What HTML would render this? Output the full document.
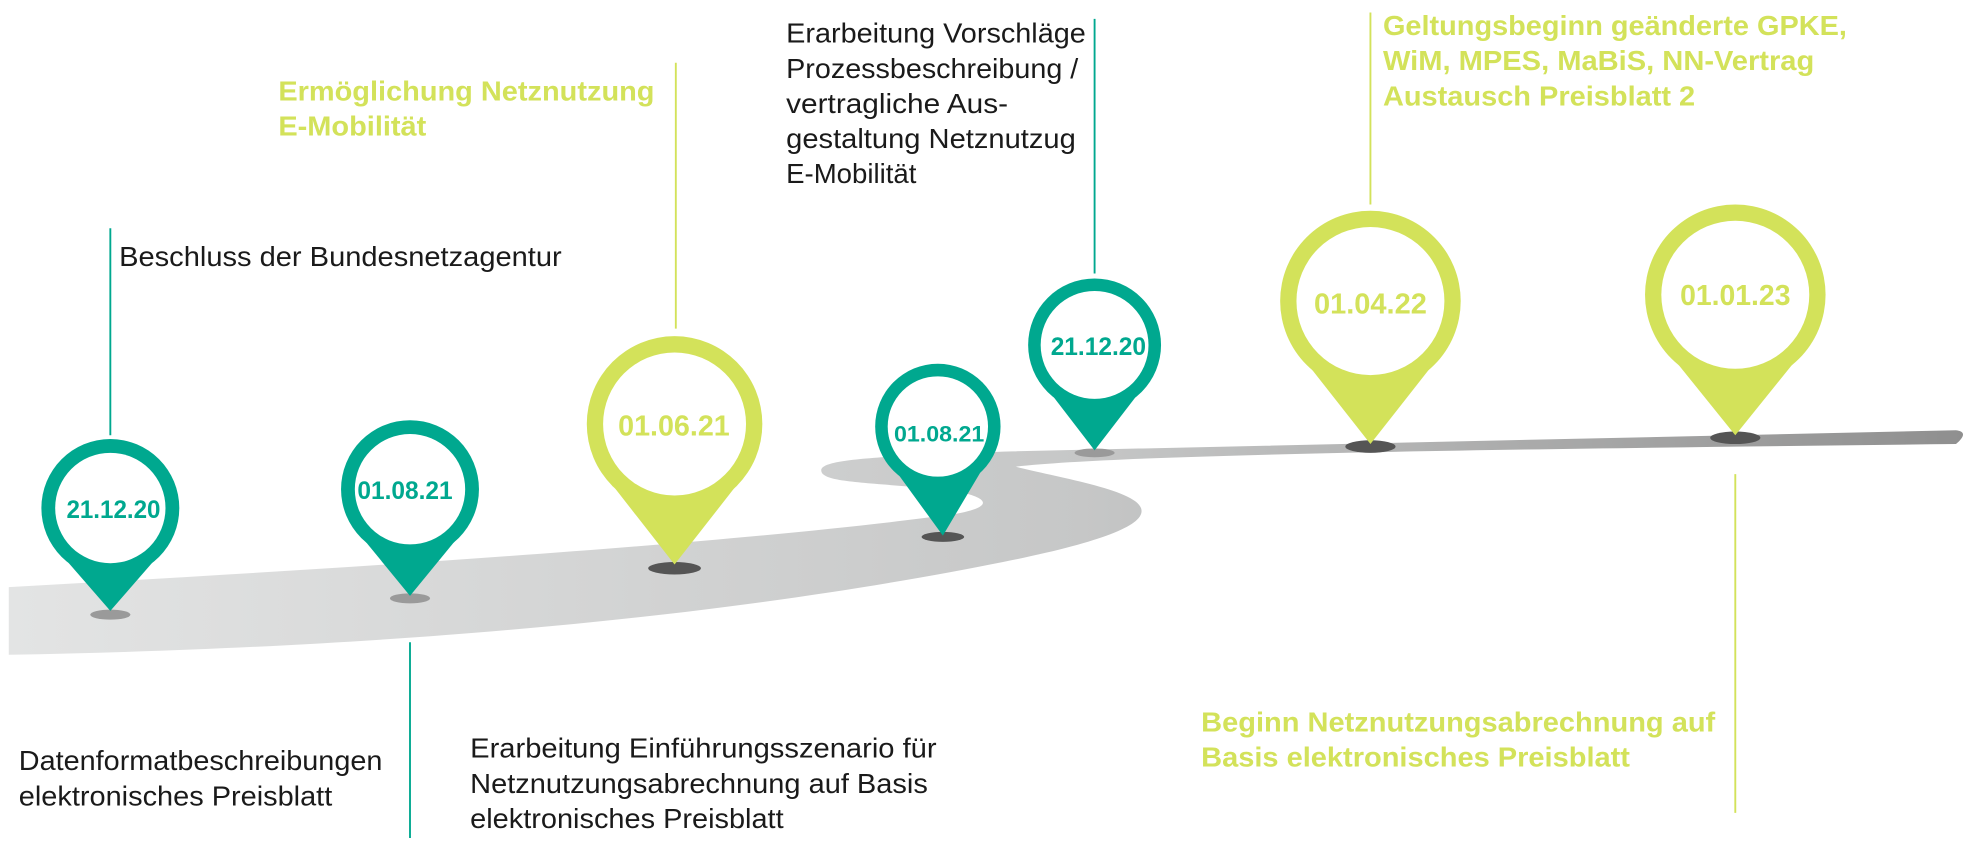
<!DOCTYPE html>
<html><head><meta charset="utf-8"><style>
html,body{margin:0;padding:0;background:#fff;width:1966px;height:853px;overflow:hidden}
svg{display:block}
text{font-family:"Liberation Sans",sans-serif}
.b{fill:#1a1a1a;font-size:22px}
.g{fill:#d3e25a;font-size:22px;font-weight:bold}
.pt{fill:#00a88f;font-weight:bold;font-size:20px}
.pl{fill:#d3e25a;font-weight:bold;font-size:23px}
</style></head><body>
<svg width="1966" height="853" viewBox="0 0 1568 680" preserveAspectRatio="none">
<defs>
<linearGradient id="rg" x1="0" x2="1" y1="0" y2="0">
<stop offset="0" stop-color="#e3e4e4"/><stop offset="0.55" stop-color="#c6c7c7"/><stop offset="1" stop-color="#8f8f8f"/>
</linearGradient>
</defs>
<path d="M7,468 C300,452 600,432 760,410 C790,405 792,398 765,392 C700,384 655,386 655,375 C655,366 700,364 800,360 L1560,343 C1568,344 1567,348 1560,354 C1200,358 900,362 810,372 C840,380 905,390 910,405 C915,418 880,432 800,448 C650,478 400,515 7,522 Z" fill="url(#rg)"/>

<g stroke-width="1.5">
<line x1="88" y1="182" x2="88" y2="347" stroke="#00a88f"/>
<line x1="327" y1="512" x2="327" y2="668" stroke="#00a88f"/>
<line x1="539" y1="50" x2="539" y2="262" stroke="#d3e25a"/>
<line x1="873" y1="15" x2="873" y2="218" stroke="#00a88f"/>
<line x1="1093" y1="10" x2="1093" y2="163" stroke="#d3e25a"/>
<line x1="1384" y1="378" x2="1384" y2="648" stroke="#d3e25a"/>
</g>

<ellipse cx="88" cy="490" rx="16" ry="4" fill="#9a9a9a"/>
<ellipse cx="327" cy="477" rx="16" ry="4" fill="#9a9a9a"/>
<ellipse cx="538" cy="453" rx="21" ry="5" fill="#555"/>
<ellipse cx="752" cy="428" rx="17" ry="4" fill="#555"/>
<ellipse cx="873" cy="361" rx="16" ry="3.5" fill="#9a9a9a"/>
<ellipse cx="1093" cy="356" rx="20" ry="5" fill="#555"/>
<ellipse cx="1384" cy="349" rx="20" ry="5" fill="#555"/>

<g fill="#00a88f">
<circle cx="88" cy="405" r="55"/><path d="M48,441 L88,487 L128,441 Z"/>
<circle cx="327" cy="390" r="55"/><path d="M286,425 L327,475 L368,425 Z"/>
<circle cx="748" cy="340" r="50"/><path d="M709,368 L752,427 L787,368 Z"/>
<circle cx="873" cy="275" r="53"/><path d="M833,307 L873,359 L913,307 Z"/>
</g>
<g fill="#d3e25a">
<circle cx="538" cy="338" r="70"/><path d="M484,381 L538,450 L592,381 Z"/>
<circle cx="1093" cy="240" r="72"/><path d="M1038,284 L1093,354 L1148,284 Z"/>
<circle cx="1384" cy="235" r="72"/><path d="M1330,280 L1384,347 L1438,280 Z"/>
</g>
<g fill="#fff">
<circle cx="88" cy="405" r="44"/>
<circle cx="327" cy="390" r="44"/>
<circle cx="748" cy="340" r="40"/>
<circle cx="873" cy="275" r="43"/>
<circle cx="538" cy="338" r="57"/>
<circle cx="1093" cy="240" r="59"/>
<circle cx="1384" cy="235" r="59"/>
</g>
<g>
<text class="pt" x="53" y="413" textLength="75" lengthAdjust="spacingAndGlyphs">21.12.20</text>
<text class="pt" x="285" y="398" textLength="76" lengthAdjust="spacingAndGlyphs">01.08.21</text>
<text class="pl" x="493" y="347" textLength="89" lengthAdjust="spacingAndGlyphs">01.06.21</text>
<text class="pt" x="713" y="352" textLength="72" lengthAdjust="spacingAndGlyphs" style="font-size:18px">01.08.21</text>
<text class="pt" x="838" y="283" textLength="76" lengthAdjust="spacingAndGlyphs">21.12.20</text>
<text class="pl" x="1048" y="250" textLength="90" lengthAdjust="spacingAndGlyphs">01.04.22</text>
<text class="pl" x="1340" y="243" textLength="88" lengthAdjust="spacingAndGlyphs">01.01.23</text>

<text class="b" x="95" y="212" textLength="353" lengthAdjust="spacingAndGlyphs">Beschluss der Bundesnetzagentur</text>
<text class="b" x="15" y="614" textLength="290" lengthAdjust="spacingAndGlyphs">Datenformatbeschreibungen</text>
<text class="b" x="15" y="642" textLength="250" lengthAdjust="spacingAndGlyphs">elektronisches Preisblatt</text>
<text class="b" x="375" y="604" textLength="372" lengthAdjust="spacingAndGlyphs">Erarbeitung Einführungsszenario für</text>
<text class="b" x="375" y="632" textLength="365" lengthAdjust="spacingAndGlyphs">Netznutzungsabrechnung auf Basis</text>
<text class="b" x="375" y="660" textLength="250" lengthAdjust="spacingAndGlyphs">elektronisches Preisblatt</text>
<text class="b" x="627" y="34" textLength="239" lengthAdjust="spacingAndGlyphs">Erarbeitung Vorschläge</text>
<text class="b" x="627" y="62" textLength="233" lengthAdjust="spacingAndGlyphs">Prozessbeschreibung /</text>
<text class="b" x="627" y="90" textLength="177" lengthAdjust="spacingAndGlyphs">vertragliche Aus-</text>
<text class="b" x="627" y="118" textLength="231" lengthAdjust="spacingAndGlyphs">gestaltung Netznutzug</text>
<text class="b" x="627" y="146">E-Mobilität</text>
<text class="g" x="222" y="80" textLength="300" lengthAdjust="spacingAndGlyphs">Ermöglichung Netznutzung</text>
<text class="g" x="222" y="108" textLength="118" lengthAdjust="spacingAndGlyphs">E-Mobilität</text>
<text class="g" x="1103" y="28" textLength="370" lengthAdjust="spacingAndGlyphs">Geltungsbeginn geänderte GPKE,</text>
<text class="g" x="1103" y="56" textLength="344" lengthAdjust="spacingAndGlyphs">WiM, MPES, MaBiS, NN-Vertrag</text>
<text class="g" x="1103" y="84" textLength="249" lengthAdjust="spacingAndGlyphs">Austausch Preisblatt 2</text>
<text class="g" x="958" y="583" textLength="410" lengthAdjust="spacingAndGlyphs">Beginn Netznutzungsabrechnung auf</text>
<text class="g" x="958" y="611" textLength="342" lengthAdjust="spacingAndGlyphs">Basis elektronisches Preisblatt</text>
</g>
</svg>
</body></html>
